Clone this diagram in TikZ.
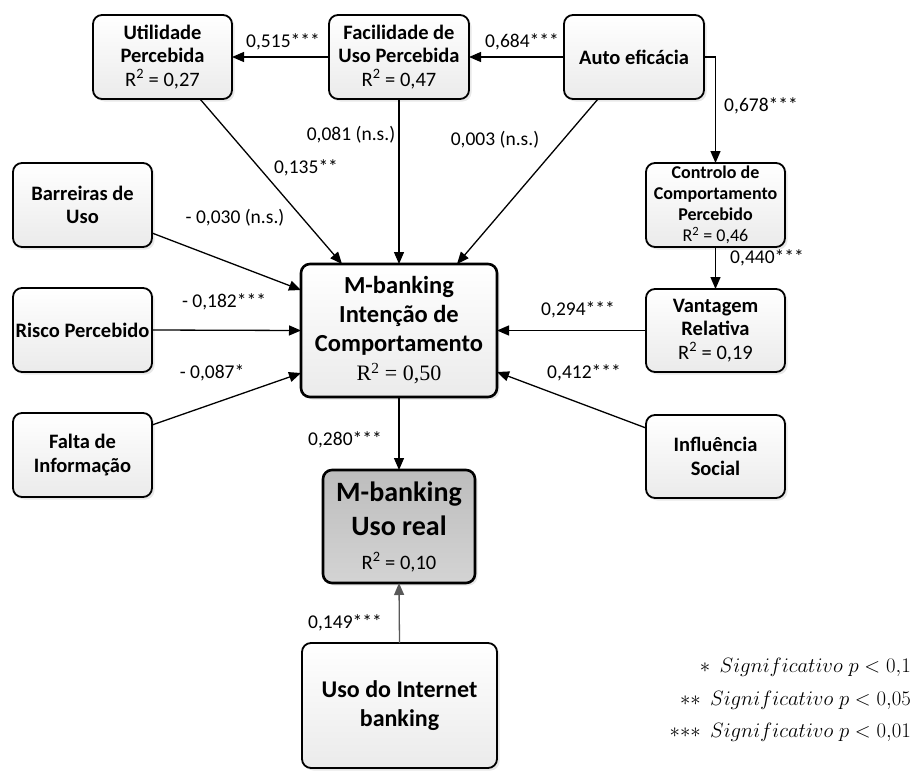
\documentclass[tikz,border=0pt]{standalone}
\usepackage{fontspec}
\setmainfont{Carlito}
\newfontfamily\rserif{Liberation Serif}
\usetikzlibrary{arrows.meta,shadows}

\begin{document}
\begin{tikzpicture}[x=1pt,y=-1pt,
  box/.style={draw=black, line width=1.8pt, rounded corners=9pt, align=center,
    inner sep=2pt, outer sep=0pt, top color=white, bottom color=black!8,
    drop shadow={shadow xshift=2.5pt, shadow yshift=-2.5pt, fill=black!18},
    font=\fontsize{20.5}{23.5}\selectfont\bfseries,
    minimum width=139pt, minimum height=84pt},
  smallbox/.style={box, font=\fontsize{18}{21}\selectfont\bfseries},
  bigbox/.style={box, line width=2.6pt, font=\fontsize{24.5}{29}\selectfont\bfseries},
  realbox/.style={box, line width=2.6pt, top color=black!26, bottom color=black!17,
    font=\fontsize{28}{34}\selectfont\bfseries},
  conn/.style={line width=1.3pt, -{Triangle[length=12pt,width=10pt]}},
  greyconn/.style={conn, draw=black!65, -{Triangle[length=12pt,width=10pt,fill=black!65]}},
  lab/.style={font=\fontsize{19.5}{22}\selectfont, inner sep=0pt},
  legend/.style={font=\fontsize{20.5}{24}\selectfont, inner sep=0pt, anchor=east}
]
\useasboundingbox (0,0) rectangle (915,771);

% constructs
\node[box] (util)  at (162.5,57) {Utilidade\\Percebida\\\mdseries R\textsuperscript{2} = 0,27};
\node[box, minimum width=140pt] (facil) at (399,57) {Facilidade de\\Uso Percebida\\\mdseries R\textsuperscript{2} = 0,47};
\node[box, minimum width=140pt] (auto)  at (634,57) {Auto eficácia};
\node[box] (barr)  at (82.5,205) {Barreiras de\\Uso};
\node[box] (risco) at (82.5,330) {Risco Percebido};
\node[box] (falta) at (82.5,455) {Falta de\\Informação};
\node[smallbox] (contr) at (715.5,205) {Controlo de\\Comportamento\\Percebido\\\mdseries R\textsuperscript{2} = 0,46};
\node[box, minimum height=83pt] (vant)  at (715.5,330.5) {Vantagem\\Relativa\\\mdseries R\textsuperscript{2} = 0,19};
\node[box, minimum height=83pt] (infl)  at (715.5,456.5) {Influência\\Social};
\node[bigbox, minimum width=196pt, minimum height=133pt] (intent) at (399,330.5)
  {M-banking\\Intenção de\\Comportamento\\{\rserif\mdseries\fontsize{22}{26}\selectfont R\textsuperscript{2} = 0,50}};
\node[realbox, minimum width=152pt, minimum height=113pt] (real) at (399,526.5)
  {M-banking\\Uso real\\{\mdseries\fontsize{20.5}{24}\selectfont R\textsuperscript{2} = 0,10}};
\node[box, minimum width=195pt, minimum height=125pt, font=\fontsize{24}{29}\selectfont\bfseries] (inet) at (399.5,705.5)
  {Uso do Internet\\banking};

% paths
\draw[conn] (facil.west) -- (util.east);
\draw[conn] (auto.west) -- (facil.east);
\draw[conn] (auto.east) -| (contr.north);
\draw[conn] (contr.south) -- (vant.north);
\draw[conn] (vant.west) -- (intent.east);
\draw[conn] ([yshift=28.5pt]infl.west) -- ([yshift=-41.5pt]intent.east);
\draw[conn] ([xshift=37.5pt]util.south) -- ([xshift=-57pt]intent.north);
\draw[conn] (facil.south) -- (intent.north);
\draw[conn] ([xshift=-36pt]auto.south) -- ([xshift=58pt]intent.north);
\draw[conn] ([yshift=-28pt]barr.east) -- ([yshift=40.5pt]intent.west);
\draw[conn] (risco.east) -- (intent.west);
\draw[conn] ([yshift=30pt]falta.east) -- ([yshift=-42.5pt]intent.west);
\draw[conn] (intent.south) -- (real.north);
\draw[greyconn] (inet.north) -- (real.south);

% path coefficients
\node[lab] (l1)  at (283,42)  {0,515***};
\node[lab] (l2)  at (522,42)  {0,684***};
\node[lab] (l3)  at (761,106) {0,678***};
\node[lab] (l4)  at (767,258) {0,440***};
\node[lab] (l5)  at (351,135) {0,081 (n.s.)};
\node[lab] (l6)  at (495,140) {0,003 (n.s.)};
\node[lab] (l7)  at (306,168) {0,135**};
\node[lab] (l8)  at (235,218) {- 0,030 (n.s.)};
\node[lab] (l9)  at (224,302) {- 0,182***};
\node[lab] (l10) at (212,373) {- 0,087*};
\node[lab] (l11) at (578,310) {0,294***};
\node[lab] (l12) at (584,373) {0,412***};
\node[lab] (l13) at (345,440) {0,280***};
\node[lab] (l14) at (345,623) {0,149***};

% significance legend
\node[legend] (s1) at (911,667) {${\ast}\ \ Significativo\; p < 0{,}1$};
\node[legend] (s2) at (911,700) {${\ast}{\ast}\ \ Significativo\; p < 0{,}05$};
\node[legend] (s3) at (911,732) {${\ast}{\ast}{\ast}\ \ Significativo\; p < 0{,}01$};
\end{tikzpicture}
\end{document}
